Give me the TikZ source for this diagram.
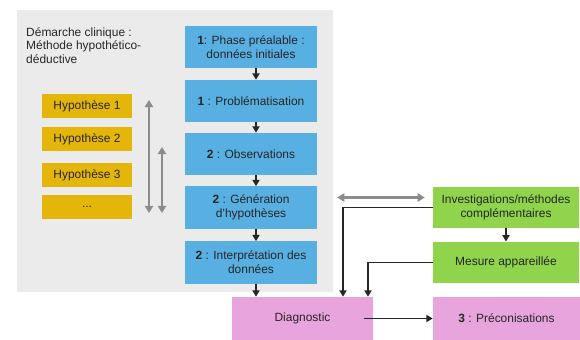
\documentclass[tikz,border=0pt]{standalone}
\usepackage{fontspec}
\setmainfont{Liberation Sans}
\usepackage{tikz}
\usetikzlibrary{arrows.meta,calc,positioning}
\definecolor{bgCol}{HTML}{EBEBEB}
\definecolor{phaseCol}{HTML}{58AFE2}
\definecolor{hypCol}{HTML}{E5B60A}
\definecolor{invCol}{HTML}{8FD44B}
\definecolor{diagCol}{HTML}{E8A4DD}
\definecolor{txtCol}{HTML}{262626}
\definecolor{dblCol}{HTML}{8C8C8C}
\tikzset{
  box/.style={inner sep=1pt, align=center, text=txtCol,
              font=\fontsize{10.2}{11.8}\selectfont},
  phase/.style={box, fill=phaseCol, minimum width=3.96cm, minimum height=1.26cm},
  hyp/.style={box, fill=hypCol, minimum width=2.7cm, minimum height=0.72cm},
  inv/.style={box, fill=invCol, minimum width=4.38cm, minimum height=1.24cm},
  diag/.style={box, fill=diagCol, minimum height=1.29cm},
  link/.style={-{Triangle[length=5.5pt,width=6pt]}, line width=1.7pt, black!85},   % step to step
  dbl/.style={{Triangle[length=6pt,width=7pt]}-{Triangle[length=6pt,width=7pt]},
              line width=2.2pt, dblCol},                                           % back and forth
}
\begin{document}
\begin{tikzpicture}[x=0.03cm,y=-0.03cm]
  \useasboundingbox (0,0) rectangle (580,340);
  \fill[bgCol] (17,10) rectangle (333,292);
  \node[box, anchor=north west, align=left, inner sep=0pt] (title) at (26,27)
    {Démarche clinique :\\Méthode hypothético-\\déductive};

  \node[phase] (b1) at (251,47)    {\textbf{1}: Phase préalable :\\données initiales};
  \node[phase] (b2) at (251,101)   {\textbf{1} : Problématisation};
  \node[phase] (b3) at (251,154)   {\textbf{2} : Observations};
  \node[phase] (b4) at (251,207.5) {\textbf{2} : Génération\\d'hypothèses};
  \node[phase] (b5) at (251,262.5) {\textbf{2} : Interprétation des\\données};

  \node[hyp] (h1) at (87,106) {Hypothèse 1};
  \node[hyp] (h2) at (87,139) {Hypothèse 2};
  \node[hyp] (h3) at (87,175) {Hypothèse 3};
  \node[hyp] (h4) at (87,207) {...};

  \node[inv] (inv) at (506,207.5) {Investigations/méthodes\\complémentaires};
  \node[inv] (mes) at (506,262.5) {Mesure appareillée};

  \node[diag, minimum width=4.23cm] (diag) at (302.5,318.5) {Diagnostic};
  \node[diag, minimum width=4.41cm] (prec) at (506.5,318.5) {\textbf{3} : Préconisations};

  \coordinate (ax) at (256,0);
  \coordinate (d1) at (343,0);
  \coordinate (d2) at (368,0);
  \foreach \a/\b in {b1/b2,b2/b3,b3/b4,b4/b5}{\draw[link] (\a.south -| ax) -- (\b.north -| ax);}
  \draw[link] (b5.south -| ax) -- (ax |- diag.north);

  \coordinate (u1) at (149,100);  \coordinate (v1) at (149,213);
  \coordinate (u2) at (162,147);  \coordinate (v2) at (162,213);
  \draw[dbl] (u1) -- (v1);
  \draw[dbl] (u2) -- (v2);
  \draw[dbl] ($(b4.east)+(20,-10)$) -- ($(inv.west)+(-8,-10)$);

  \draw[link] (inv.west) -| (d1 |- diag.north);
  \draw[link] (mes.west) -| (d2 |- diag.north);
  \draw[link] (inv.south) -- (mes.north);
  \draw[link] ($(diag.east)+(-9,0)$) -- (prec.west);
\end{tikzpicture}
\end{document}
